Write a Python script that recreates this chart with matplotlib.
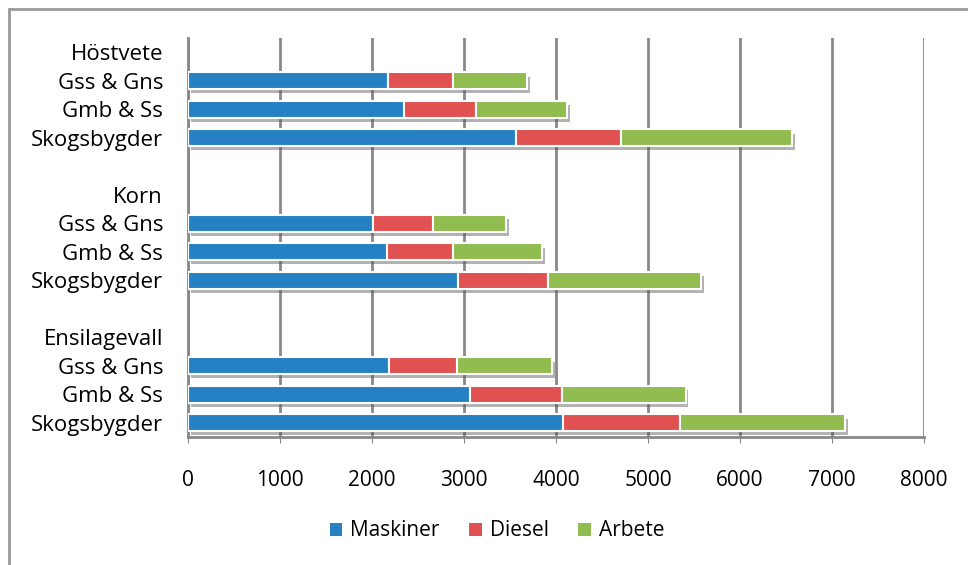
import matplotlib.pyplot as plt
import matplotlib.patheffects as pe
from matplotlib.patches import Rectangle, Patch

# Row labels, top to bottom (headers have no bar)
labels = ['Höstvete', 'Gss & Gns', 'Gmb & Ss', 'Skogsbygder', '',
          'Korn', 'Gss & Gns', 'Gmb & Ss', 'Skogsbygder', '',
          'Ensilagevall', 'Gss & Gns', 'Gmb & Ss', 'Skogsbygder']

# rows that carry bars and their values
bar_rows = [1, 2, 3, 6, 7, 8, 11, 12, 13]
maskiner = [2170, 2350, 3570, 2010, 2160, 2930, 2190, 3060, 4080]
diesel = [710, 780, 1140, 650, 720, 980, 730, 1000, 1270]
arbete = [810, 990, 1860, 800, 970, 1670, 1040, 1350, 1790]

series = ['Maskiner', 'Diesel', 'Arbete']
colors = ['#2681C2', '#E05151', '#91BC4F']

plt.rcParams['font.family'] = ['Open Sans', 'DejaVu Sans']

fig = plt.figure(figsize=(9.68, 5.65), dpi=100)
ax = fig.add_axes([188 / 968, 1 - 437 / 565, (924 - 188) / 968, (437 - 38) / 565])

# outer chart border (only left and top visible in the crop)
fig.patches.append(Rectangle((9 / 968, -0.1), 1.2, 1 - 9 / 565 + 0.1,
                             transform=fig.transFigure, fill=False,
                             edgecolor='#999999', linewidth=2))

left = [0] * len(bar_rows)
shadow = [pe.SimplePatchShadow(offset=(2, -3), shadow_rgbFace='#555555', alpha=0.45), pe.Normal()]
for name, vals, c in zip(series, [maskiner, diesel, arbete], colors):
    bars = ax.barh(bar_rows, vals, left=left, height=0.58, color=c, edgecolor='white',
                   linewidth=1.5, zorder=3)
    for b in bars:
        b.set_path_effects(shadow)
    left = [l + v for l, v in zip(left, vals)]

ax.set_xlim(0, 8000)
ax.set_ylim(len(labels) - 0.5, -0.5)
ax.set_xticks(range(0, 8001, 1000))
ax.set_yticks(range(len(labels)))
ax.set_yticklabels(labels)
ax.tick_params(axis='y', length=0, pad=18, labelsize=16)
ax.tick_params(axis='x', length=4, color='#888888', pad=20, labelsize=15)
ax.grid(axis='x', color='#888888', linewidth=2, zorder=0)
for s in ['top', 'right']:
    ax.spines[s].set_visible(False)
for s in ['left', 'bottom']:
    ax.spines[s].set_color('#888888')
    ax.spines[s].set_linewidth(2)

handles = [Patch(facecolor=c, label=n) for n, c in zip(series, colors)]
fig.legend(handles=handles, loc='center', bbox_to_anchor=(497 / 968, 1 - 531 / 565), ncol=3,
           frameon=False, fontsize=15, handlelength=0.6, handleheight=0.6,
           handletextpad=0.4, columnspacing=1.4)

plt.savefig('out.png', dpi=100)
